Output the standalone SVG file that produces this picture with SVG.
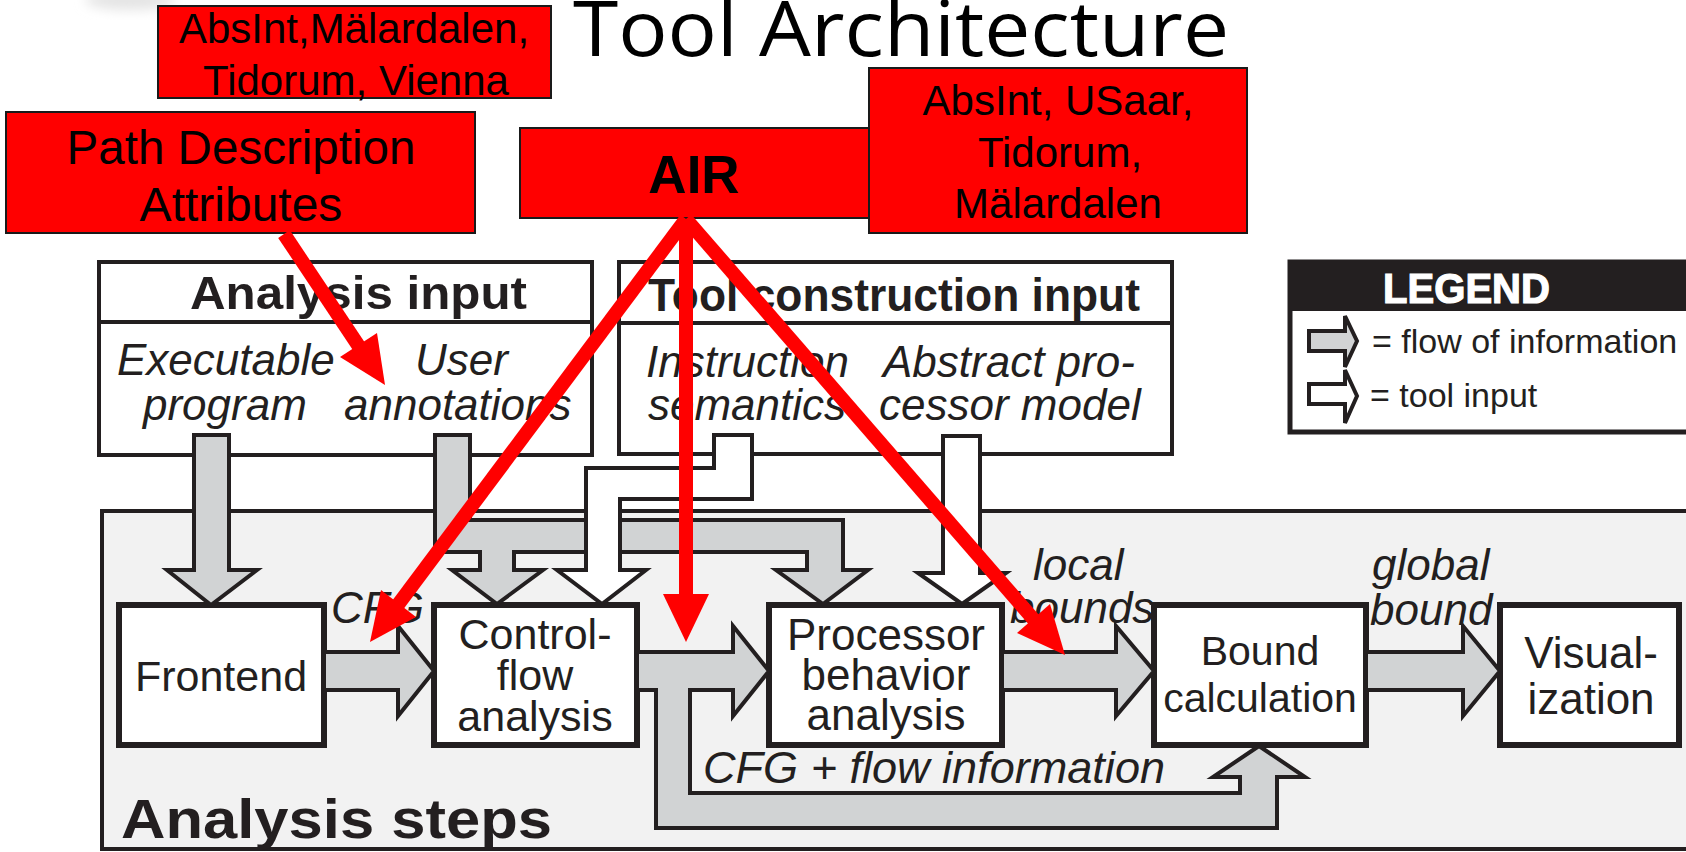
<svg xmlns="http://www.w3.org/2000/svg" width="1686" height="852" viewBox="0 0 1686 852">
<defs>
<filter id="blur" x="-50%" y="-50%" width="200%" height="200%"><feGaussianBlur stdDeviation="6"/></filter>
</defs>
<style>
.red{fill:#ff0000;stroke:#1a1a1a;stroke-width:2}
.rt{font-family:"Liberation Sans",Arial,sans-serif;font-size:42px;fill:#000;text-anchor:middle}
.rt48{font-size:48px}
.rtb{font-size:53px;font-weight:bold}
.box{fill:#fff;stroke:#231f20;stroke-width:4}
.pbox{fill:#fff;stroke:#231f20;stroke-width:6}
.hd{font-family:"Liberation Sans",Arial,sans-serif;font-weight:bold;font-size:47px;fill:#231f20}
.it{font-family:"Liberation Sans",Arial,sans-serif;font-style:italic;font-size:44px;fill:#231f20}
.pt{font-family:"Liberation Sans",Arial,sans-serif;font-size:43px;fill:#231f20;text-anchor:middle}
.p44{font-size:44px}
.p41{font-size:41px}
.ga{fill:#d1d3d4;stroke:#231f20;stroke-width:4;stroke-linejoin:miter}
.wa{fill:#fff;stroke:#231f20;stroke-width:4;stroke-linejoin:miter}
.rl{stroke:#ff0000;stroke-width:14;fill:none}
.rh{fill:#ff0000}
.lg{font-family:"Liberation Sans",Arial,sans-serif;font-size:34px;fill:#231f20}
</style>
<rect x="0" y="0" width="1686" height="852" fill="#fff"/>
<ellipse cx="130" cy="0" rx="45" ry="10" fill="#e4e4e4" filter="url(#blur)"/>
<text x="573" y="56" font-family="'Open Sans','Liberation Sans',sans-serif" font-size="76" textLength="656" lengthAdjust="spacingAndGlyphs" fill="#000">Tool Architecture</text>

<g id="n-absint-malardalen">
<rect class="red" x="158" y="6" width="393" height="92"/>
<text class="rt" x="354" y="43">AbsInt,Mälardalen,</text>
<text class="rt" x="356" y="95">Tidorum, Vienna</text>
</g>
<g id="n-path-description">
<rect class="red" x="6" y="112" width="469" height="121"/>
<text class="rt rt48" x="241" y="164" textLength="349" lengthAdjust="spacingAndGlyphs">Path Description</text>
<text class="rt rt48" x="241" y="221">Attributes</text>
</g>
<g id="n-air">
<rect class="red" x="520" y="128" width="360" height="90"/>
<text class="rt rtb" x="694" y="193">AIR</text>
</g>
<g id="n-absint-usaar">
<rect class="red" x="869" y="68" width="378" height="165"/>
<text class="rt" x="1058" y="115">AbsInt, USaar,</text>
<text class="rt" x="1060" y="167">Tidorum,</text>
<text class="rt" x="1058" y="218">Mälardalen</text>
</g>

<g id="n-analysis-input">
<rect class="box" x="99" y="262" width="493" height="193"/>
<line x1="99" y1="322" x2="592" y2="322" stroke="#231f20" stroke-width="4"/>
<text class="hd" x="190" y="309" textLength="337" lengthAdjust="spacingAndGlyphs">Analysis input</text>
<text class="it" x="117" y="375">Executable</text>
<text class="it" x="143" y="420">program</text>
<text class="it" x="415" y="375">User</text>
<text class="it" x="344" y="420">annotations</text>
</g>
<g id="n-tool-construction-input">
<rect class="box" x="619" y="262" width="553" height="192"/>
<line x1="619" y1="323" x2="1172" y2="323" stroke="#231f20" stroke-width="4"/>
<text class="hd" x="648" y="311" textLength="492" lengthAdjust="spacingAndGlyphs">Tool construction input</text>
<text class="it" x="646" y="377">Instruction</text>
<text class="it" x="648" y="420">semantics</text>
<text class="it" x="883" y="377">Abstract pro-</text>
<text class="it" x="879" y="420">cessor model</text>
</g>

<g id="n-legend">
<rect x="1290" y="262" width="420" height="170" fill="#fff" stroke="#231f20" stroke-width="5"/>
<rect x="1290" y="262" width="420" height="49" fill="#231f20"/>
<text x="1383" y="303" font-family="'Liberation Sans',Arial,sans-serif" font-weight="bold" font-size="42" fill="#fff" stroke="#fff" stroke-width="1.2" textLength="167" lengthAdjust="spacingAndGlyphs">LEGEND</text>
<path class="ga" d="M1309 331 L1345 331 L1345 316 L1357 341 L1345 367 L1345 351 L1309 351 Z"/>
<text class="lg" x="1372" y="353">= flow of information</text>
<path class="wa" d="M1309 384 L1345 384 L1345 370 L1357 396 L1345 423 L1345 404 L1309 404 Z"/>
<text class="lg" x="1370" y="407">= tool input</text>
</g>

<g id="n-analysis-steps">
<rect x="102" y="511" width="1620" height="338" fill="#f2f2f2" stroke="#231f20" stroke-width="4"/>
<text x="121" y="838" font-family="'Liberation Sans',Arial,sans-serif" font-weight="bold" font-size="56" fill="#231f20" textLength="431" lengthAdjust="spacingAndGlyphs">Analysis steps</text>
</g>

<g id="n-frontend">
<rect class="pbox" x="119" y="605" width="205" height="140"/>
<text class="pt" x="221" y="691">Frontend</text>
</g>
<g id="n-control-flow">
<rect class="pbox" x="434" y="605" width="203" height="140"/>
<text class="pt" x="535" y="649">Control-</text>
<text class="pt" x="535" y="690">flow</text>
<text class="pt" x="535" y="731">analysis</text>
</g>
<g id="n-processor-behavior">
<rect class="pbox" x="769" y="605" width="233" height="140"/>
<text class="pt p44" x="886" y="650">Processor</text>
<text class="pt p44" x="886" y="690">behavior</text>
<text class="pt p44" x="886" y="730">analysis</text>
</g>
<g id="n-bound-calculation">
<rect class="pbox" x="1154" y="605" width="212" height="140"/>
<text class="pt p41" x="1260" y="665">Bound</text>
<text class="pt p41" x="1260" y="712">calculation</text>
</g>
<g id="n-visualization">
<rect class="pbox" x="1500" y="605" width="179" height="140"/>
<text class="pt p44" x="1591" y="668">Visual-</text>
<text class="pt p44" x="1591" y="714">ization</text>
</g>

<g id="connectors">
<path class="ga" d="M194 435 L229 435 L229 570 L257 570 L211 605 L167 570 L194 570 Z"/>
<path class="ga" d="M435 435 L470 435 L470 520 L843 520 L843 570 L868 570 L823 604 L776 570 L807 570 L807 552 L514 552 L514 570 L543 570 L497 604 L452 570 L480 570 L480 552 L435 552 Z"/>
<path class="wa" d="M714 435 L752 435 L752 499 L620 499 L620 570 L646 570 L602 604 L557 570 L586 570 L586 468 L714 468 Z"/>
<path class="wa" d="M943 436 L980 436 L980 573 L1006 573 L962 604 L918 573 L943 573 Z"/>
<path class="ga" d="M324 652 L398 652 L398 626 L434 671 L398 716 L398 690 L324 690 Z"/>
<path class="ga" d="M637 652 L733 652 L733 626 L769 671 L733 716 L733 690 L690 690 L690 793 L1240 793 L1240 777 L1213 777 L1259 746 L1305 777 L1277 777 L1277 828 L656 828 L656 690 L637 690 Z"/>
<path class="ga" d="M1002 652 L1116 652 L1116 626 L1154 671 L1116 716 L1116 690 L1002 690 Z"/>
<path class="ga" d="M1366 652 L1463 652 L1463 626 L1500 671 L1463 716 L1463 690 L1366 690 Z"/>
<text class="it" x="331" y="623">CFG</text>
<text class="it" x="1033" y="580">local</text>
<text class="it" x="1010" y="623">bounds</text>
<text class="it" x="1372" y="580">global</text>
<text class="it" x="1370" y="625">bound</text>
<text class="it" x="703" y="783" textLength="462" lengthAdjust="spacingAndGlyphs">CFG + flow information</text>
</g>

<g id="red-arrows">
<line class="rl" x1="284" y1="234" x2="360" y2="348"/>
<polygon class="rh" points="385,385 340,357 377,333"/>
<line class="rl" x1="686" y1="219" x2="397" y2="606"/>
<polygon class="rh" points="370,642 381,590 416,617"/>
<line class="rl" x1="686" y1="219" x2="686" y2="596"/>
<polygon class="rh" points="686,642 663,594 709,594"/>
<line class="rl" x1="686" y1="219" x2="1035" y2="621"/>
<polygon class="rh" points="1065,655 1017,633 1050,604"/>
</g>
</svg>
